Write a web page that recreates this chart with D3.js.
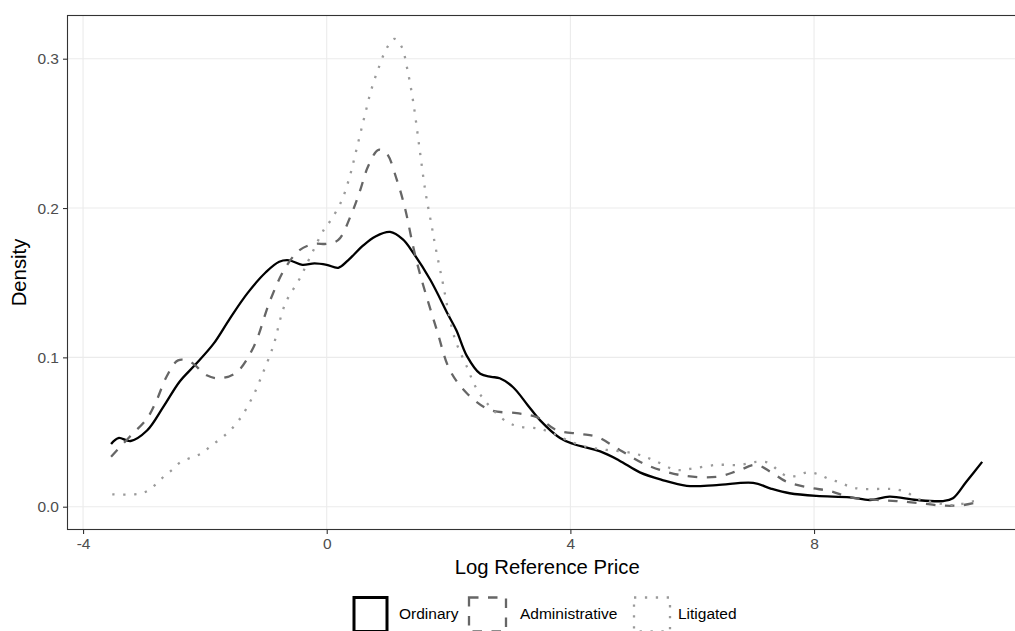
<!DOCTYPE html>
<html>
<head>
<meta charset="utf-8">
<script src="https://cdn.jsdelivr.net/npm/d3@7"></script>
<style>
  body { margin: 0; background: #fff; }
  svg { display: block; font-family: "Liberation Sans", Arial, sans-serif; }
</style>
</head>
<body>
<div id="chart"></div>
<script>
// density estimates, [log price, density]
const ordinary = [
  [-3.54, 0.042], [-3.42, 0.046], [-3.22, 0.044], [-2.95, 0.051], [-2.68, 0.067],
  [-2.41, 0.084], [-2.16, 0.095], [-1.86, 0.109], [-1.59, 0.126], [-1.3, 0.143],
  [-1.0, 0.157], [-0.78, 0.164], [-0.62, 0.165], [-0.4, 0.162], [-0.2, 0.163],
  [0.0, 0.162], [0.19, 0.160], [0.35, 0.165], [0.6, 0.175], [0.8, 0.181],
  [1.04, 0.184], [1.25, 0.179], [1.42, 0.170], [1.7, 0.152], [2.0, 0.128],
  [2.13, 0.118], [2.3, 0.101], [2.52, 0.089], [2.7, 0.087], [2.84, 0.086],
  [3.06, 0.080], [3.3, 0.068], [3.5, 0.058], [3.83, 0.046], [4.05, 0.042],
  [4.49, 0.037], [4.8, 0.031], [5.14, 0.023], [5.5, 0.018], [5.91, 0.014],
  [6.4, 0.0145], [7.0, 0.016], [7.3, 0.012], [7.6, 0.009], [8.04, 0.0072],
  [8.59, 0.0063], [8.92, 0.0045], [9.24, 0.0067], [9.68, 0.0045], [10.12, 0.0038],
  [10.28, 0.0056], [10.5, 0.0167], [10.76, 0.030]
];
const administrative = [
  [-3.54, 0.0335], [-3.23, 0.047], [-2.95, 0.059], [-2.79, 0.0715], [-2.63, 0.087],
  [-2.44, 0.098], [-2.24, 0.097], [-1.97, 0.088], [-1.75, 0.086], [-1.48, 0.090],
  [-1.2, 0.107], [-0.93, 0.138], [-0.68, 0.160], [-0.44, 0.172], [-0.2, 0.176],
  [0.0, 0.176], [0.19, 0.1786], [0.41, 0.1965], [0.55, 0.212], [0.68, 0.228],
  [0.85, 0.239], [0.98, 0.2367], [1.15, 0.219], [1.29, 0.199], [1.42, 0.174],
  [1.53, 0.156], [1.81, 0.118], [2.02, 0.0916], [2.3, 0.076], [2.68, 0.0648],
  [3.12, 0.0626], [3.45, 0.060], [3.77, 0.0514], [4.16, 0.0487], [4.43, 0.0469],
  [4.81, 0.038], [5.25, 0.028], [5.8, 0.0212], [6.4, 0.020], [6.75, 0.024],
  [7.05, 0.028], [7.3, 0.023], [7.55, 0.0167], [7.93, 0.0127], [8.26, 0.0105],
  [8.59, 0.0063], [9.03, 0.0045], [9.35, 0.0038], [9.74, 0.0023], [10.12, 0.0007],
  [10.45, 0.0011], [10.76, 0.0038]
];
const litigated = [
  [-3.52, 0.0083], [-3.15, 0.0083], [-2.97, 0.010], [-2.82, 0.0145], [-2.68, 0.020],
  [-2.54, 0.0246], [-2.41, 0.0295], [-2.22, 0.033], [-2.05, 0.0358], [-1.92, 0.040],
  [-1.76, 0.045], [-1.61, 0.050], [-1.48, 0.056], [-1.38, 0.0614], [-1.29, 0.068],
  [-1.2, 0.0748], [-1.05, 0.0893], [-0.92, 0.1027], [-0.86, 0.110], [-0.68, 0.136],
  [-0.44, 0.153], [-0.29, 0.1657], [-0.04, 0.186], [0.07, 0.192], [0.25, 0.2054],
  [0.37, 0.22], [0.46, 0.2344], [0.55, 0.2496], [0.64, 0.2646], [0.73, 0.279],
  [0.85, 0.2936], [0.99, 0.3074], [1.11, 0.3133], [1.23, 0.308], [1.32, 0.2936],
  [1.42, 0.271], [1.52, 0.241], [1.62, 0.211], [1.72, 0.1887], [1.79, 0.173],
  [1.89, 0.153], [2.1, 0.113], [2.3, 0.0938], [2.46, 0.079], [2.68, 0.067],
  [2.95, 0.057], [3.17, 0.0536], [3.45, 0.0525], [3.66, 0.050], [3.94, 0.0447],
  [4.27, 0.040], [4.6, 0.038], [5.03, 0.0358], [5.36, 0.0313], [5.74, 0.0246],
  [6.02, 0.0257], [6.4, 0.028], [6.78, 0.028], [7.06, 0.030], [7.25, 0.0295],
  [7.39, 0.025], [7.55, 0.0206], [7.71, 0.0206], [7.89, 0.023], [8.07, 0.0217],
  [8.24, 0.0186], [8.42, 0.0163], [8.59, 0.0134], [8.78, 0.0119], [9.15, 0.0119],
  [9.33, 0.0117], [9.52, 0.0096], [9.68, 0.0056], [9.85, 0.0038], [10.04, 0.0023],
  [10.23, 0.0011], [10.42, 0.0018], [10.59, 0.0034], [10.76, 0.0045]
];

const categories = ['Ordinary', 'Administrative', 'Litigated'];
const xTicks = [-4, 0, 4, 8];
const yTicks = [0.0, 0.1, 0.2, 0.3];

const series = [
  { name: 'Ordinary', values: ordinary, color: '#000000', dash: null, width: 2.3 },
  { name: 'Administrative', values: administrative, color: '#666666', dash: '9.5,9.5', width: 2.3 },
  { name: 'Litigated', values: litigated, color: '#9a9a9a', dash: '2.3,8.6', width: 2.3 }
];

const width = 1015;
const height = 631;
const panel = { left: 67.5, top: 15.5, right: 1027, bottom: 529.5 };

const svg = d3.select('#chart')
    .append('svg')
    .attr('width', width)
    .attr('height', height);

const x = d3.scaleLinear()
    .domain([-4.2555, 11.496])
    .range([panel.left, panel.right]);

const y = d3.scaleLinear()
    .domain([-0.01527, 0.32893])
    .range([panel.bottom, panel.top]);

// grid
svg.append('g')
    .selectAll('line')
    .data(xTicks)
    .enter()
    .append('line')
    .attr('x1', d => x(d)).attr('x2', d => x(d))
    .attr('y1', panel.top).attr('y2', panel.bottom)
    .attr('stroke', '#ebebeb')
    .attr('stroke-width', 1.1);

svg.append('g')
    .selectAll('line')
    .data(yTicks)
    .enter()
    .append('line')
    .attr('x1', panel.left).attr('x2', panel.right)
    .attr('y1', d => y(d)).attr('y2', d => y(d))
    .attr('stroke', '#ebebeb')
    .attr('stroke-width', 1.1);

// density lines
const line = d3.line()
    .x(d => x(d[0]))
    .y(d => y(d[1]))
    .curve(d3.curveCatmullRom.alpha(0.5));

svg.append('g')
    .selectAll('path')
    .data(series)
    .enter()
    .append('path')
    .attr('d', d => line(d.values))
    .attr('fill', 'none')
    .attr('stroke', d => d.color)
    .attr('stroke-width', d => d.width)
    .attr('stroke-dasharray', d => d.dash)
    .attr('stroke-linejoin', 'round');

// panel border
svg.append('rect')
    .attr('x', panel.left)
    .attr('y', panel.top)
    .attr('width', panel.right - panel.left)
    .attr('height', panel.bottom - panel.top)
    .attr('fill', 'none')
    .attr('stroke', '#333333')
    .attr('stroke-width', 1.1);

// axes
const xAxis = svg.append('g')
    .attr('transform', `translate(0,${panel.bottom})`)
    .call(d3.axisBottom(x).tickValues(xTicks).tickSize(4.5).tickPadding(4).tickFormat(d => String(d)));

const yAxis = svg.append('g')
    .attr('transform', `translate(${panel.left},0)`)
    .call(d3.axisLeft(y).tickValues(yTicks).tickSize(4.5).tickPadding(4).tickFormat(d => d.toFixed(1)));

[xAxis, yAxis].forEach(a => {
    a.select('.domain').remove();
    a.selectAll('.tick line').attr('stroke', '#333333').attr('stroke-width', 1.1);
    a.selectAll('.tick text')
        .attr('fill', '#4d4d4d')
        .style('font-size', '15.5px')
        .style('font-family', '"Liberation Sans", Arial, sans-serif');
});

// axis titles
svg.append('text')
    .attr('x', (panel.left + panel.right) / 2)
    .attr('y', 574)
    .attr('text-anchor', 'middle')
    .style('font-size', '20.3px')
    .text('Log Reference Price');

svg.append('text')
    .attr('transform', `translate(25.5,${(panel.top + panel.bottom) / 2}) rotate(-90)`)
    .attr('text-anchor', 'middle')
    .style('font-size', '20.3px')
    .text('Density');

// legend
const keyX = [354, 469, 634];
const keyW = [33, 37, 36];
const labelX = [399, 520, 678];
const legend = svg.append('g')
    .selectAll('g')
    .data(series)
    .enter()
    .append('g');

legend.append('rect')
    .attr('x', (d, i) => keyX[i])
    .attr('y', 597.5)
    .attr('width', (d, i) => keyW[i])
    .attr('height', 34)
    .attr('fill', 'none')
    .attr('stroke', d => d.color)
    .attr('stroke-width', d => d.name === 'Ordinary' ? 3 : d.width)
    .attr('stroke-dasharray', d => d.dash);

legend.append('text')
    .attr('x', (d, i) => labelX[i])
    .attr('y', 613.5)
    .attr('dy', '0.35em')
    .style('font-size', '15.5px')
    .attr('fill', '#000')
    .text((d, i) => categories[i]);
</script>
</body>
</html>
